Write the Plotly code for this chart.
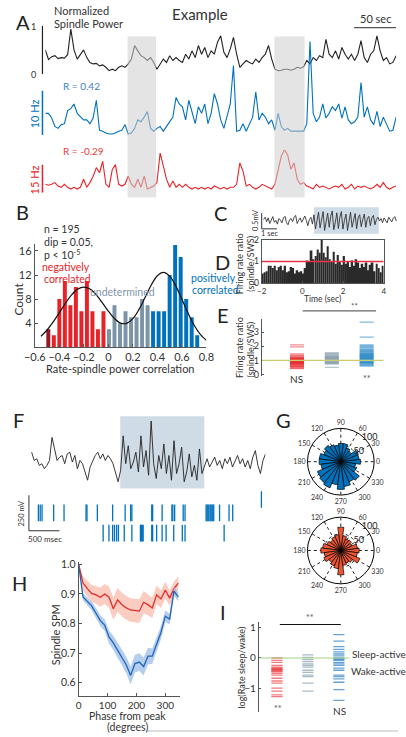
import plotly.graph_objects as go

W, H = 406, 737
def fx(p): return p / W
def fy(p): return 1 - p / H

FONT = "Lato"
TXT = "#333333"
BLUE = "rgb(0,114,189)"
RED = "rgb(232,35,40)"
DARKRED = "rgb(150,25,40)"
GRAYB = "rgb(125,148,168)"
SHADE = "rgb(207,219,229)"

# ---------------- data ----------------
# A: normalized spindle power and unit rates (sampled every A_dt seconds)
A_dt = 3.8
A_black = [0.50,0.30,0.36,0.38,0.32,0.34,0.33,0.40,0.93,0.50,
           0.31,0.41,0.50,0.34,0.24,0.21,0.22,0.17,0.19,0.14,
           0.07,0.10,0.07,0.14,0.17,0.14,0.21,0.31,0.59,0.48,
           0.38,0.34,0.28,0.34,0.24,0.10,0.21,0.31,0.24,0.38,
           0.28,0.34,0.28,0.24,0.41,0.31,0.48,0.34,0.59,0.41,
           0.55,0.34,0.48,0.41,0.66,0.79,0.45,0.34,0.52,0.76,
           0.41,0.14,0.21,0.28,0.24,0.21,0.31,0.24,0.34,0.41,
           0.59,0.31,0.10,0.07,0.08,0.10,0.10,0.08,0.10,0.14,
           0.12,0.15,0.28,0.21,0.34,0.28,0.38,0.34,0.72,0.41,
           0.34,0.48,0.31,0.55,0.41,0.31,0.41,0.28,0.41,0.69,
           0.34,0.24,0.41,0.48,0.79,0.48,0.28,0.34,0.21,0.24,
           0.38]
A_blue = [0.23,0.23,0.18,0.09,0.07,0.11,0.12,0.26,0.28,0.33,
          0.23,0.19,0.16,0.16,0.12,0.18,0.37,0.05,0.04,0.02,
          0.01,0.01,0.02,0.04,0.05,0.11,0.01,0.02,0.07,0.16,
          0.14,0.19,0.25,0.07,0.04,0.07,0.09,0.04,0.09,0.14,
          0.19,0.40,0.33,0.30,0.16,0.37,0.25,0.12,0.30,0.23,
          0.33,0.12,0.23,0.44,0.33,0.16,0.07,0.19,0.33,0.74,
          0.04,0.05,0.12,0.04,0.11,0.19,0.46,0.16,0.23,0.19,
          0.12,0.16,0.05,0.23,0.09,0.05,0.07,0.04,0.04,0.04,
          0.04,0.04,0.12,1.00,0.23,0.14,0.19,0.33,0.18,0.23,
          0.30,0.26,0.33,0.18,0.30,0.16,0.12,0.14,0.19,0.56,
          0.19,0.30,0.16,0.11,0.25,0.09,0.19,0.12,0.04,0.05,
          0.19]
A_red = [0.19,0.17,0.19,0.23,0.15,0.12,0.19,0.12,0.08,0.12,
         0.08,0.12,0.31,0.12,0.23,0.38,0.58,0.46,0.73,0.19,
         0.12,0.54,0.65,0.19,0.15,0.19,0.38,0.19,0.12,0.31,
         0.12,0.38,0.08,0.12,0.15,0.23,0.92,0.62,0.31,0.12,
         0.27,0.12,0.19,0.12,0.19,0.12,0.08,0.12,0.08,0.12,
         0.08,0.12,0.08,0.15,0.12,0.08,0.12,0.08,0.12,0.12,
         0.19,0.69,0.50,0.15,0.19,0.12,0.08,0.12,0.19,0.15,
         0.12,0.08,0.19,0.54,0.85,1.00,0.88,0.54,0.69,0.31,
         0.19,0.23,0.15,0.12,0.08,0.19,0.12,0.15,0.12,0.08,
         0.12,0.15,0.12,0.19,0.08,0.12,0.19,0.08,0.15,0.12,
         0.15,0.12,0.08,0.12,0.19,0.12,0.23,0.12,0.08,0.12,
         0.15]
A_shades = [(98, 132), (273, 309)]   # seconds

# B: histogram of rate-spindle power correlation
B_first_center = -0.49
B_bin_width = 0.045
B_counts = [3, 2, 8, 11, 7, 10, 6, 11, 6, 3, 6,
            3, 7, 4, 6, 5, 5, 8, 7,
            6, 6, 6, 12, 17, 15, 8, 5, 2]
B_group = (["strong"] * 1 + ["neg"] * 10 + ["und"] * 8 + ["pos"] * 9)
B_fit_x = [-0.55,-0.50,-0.45,-0.40,-0.35,-0.30,-0.25,-0.20,-0.15,-0.10,-0.05,0.00,0.05,0.10,
           0.15,0.20,0.25,0.30,0.35,0.40,0.45,0.50,0.55,0.60,0.65,0.70,0.75,0.80]
B_fit_y = [1.83,2.87,4.21,5.75,7.32,8.71,9.66,10.0,9.67,8.74,7.41,5.99,4.76,4.01,
           3.98,4.75,6.29,8.30,10.35,11.88,12.43,11.81,10.2,7.99,5.68,3.66,2.15,1.14]

# C: LFP example (mV), sampled every C_dt s
C_dt = 0.1
C_lfp = [0.05,0.12,-0.02,0.10,-0.08,0.06,0.14,-0.04,0.02,-0.10,0.08,0.03,-0.06,0.10,0.15,-0.05,
         -0.12,0.04,0.08,-0.02,0.12,0.18,-0.08,0.02,0.10,-0.04,0.06,0.16,0.02,-0.15,0.05,0.12,-0.10,
         0.20,-0.25,0.05,0.28,-0.22,0.10,0.30,-0.30,0.00,0.25,-0.20,0.15,0.32,-0.28,-0.05,0.26,-0.24,
         0.12,0.30,-0.26,0.02,0.22,-0.30,0.08,0.28,-0.20,0.00,0.24,-0.25,0.10,0.20,-0.18,0.05,0.22,
         -0.20,0.08,0.15,-0.15,0.10,0.18,-0.12,0.05,0.12,
         0.00,0.08,-0.05,0.10,0.02,-0.06,0.12,0.04,-0.03,0.09,0.14,0.00]
C_window = (3.3, 7.55)

# D: firing rate ratio vs time (0.1 s bins starting at -2 s)
D_start = -2.0
D_bin = 0.1
D_ratio = [0.45,0.50,0.55,0.80,0.80,0.70,0.80,0.60,0.75,0.80,
           0.60,0.80,0.50,0.55,0.75,0.70,0.45,0.60,0.50,0.55,
           0.45,0.70,1.05,1.00,1.50,1.10,1.25,1.55,1.40,2.00,
           1.40,1.20,1.70,1.10,1.00,1.45,0.90,1.30,1.00,0.85,
           1.25,0.90,1.00,0.75,1.05,0.80,1.10,0.95,0.70,0.90,
           0.75,0.95,0.60,0.85,0.95,0.55,0.90,0.70,0.50,0.80]

# E: firing rate ratio per group
E_neg = [2.1,1.95,1.45,1.35,1.3,1.25,1.2,1.18,1.15,1.12,1.1,1.08,1.05,1.02,1.0,0.98,0.96,0.94,
         0.92,0.9,0.88,0.86,0.84,0.82,0.8,0.78,0.75,0.72,0.7,0.66,0.62,0.58,0.55,0.5,0.45,0.42]
E_und = [1.55,1.48,1.42,1.36,1.3,1.26,1.22,1.18,1.14,1.1,1.06,1.02,0.98,0.94,0.9,0.86,0.82,0.78,0.74,0.5]
E_pos = [3.7,2.65,2.1,2.02,1.95,1.88,1.8,1.74,1.68,1.62,1.56,1.5,1.46,1.42,1.38,1.34,1.3,1.26,1.22,
         1.18,1.14,1.1,1.06,1.02,0.98,0.94,0.9,0.86,0.82,0.78,0.72,0.66,0.6]

# F: LFP (mV) sampled every F_dt ms, and spike times (ms)
F_dt = 41.6
F_lfp = [81,23,35,-12,0,-35,-12,23,185,92,
         23,46,58,0,69,81,12,58,-35,23,
         0,-58,-116,-23,23,58,81,35,69,23,
         58,35,0,-69,-127,-46,196,0,127,-35,
         12,81,-58,196,-23,92,-81,300,0,-104,
         58,-35,139,-69,58,-116,162,-69,0,116,
         -127,-58,69,-92,-12,-116,104,-69,-12,35,
         -23,12,46,-12,23,-35,35,0,46,-23,
         23,58,0,35,-23,23,-35,46,92,-12,
         -69,23,69]
F_window = (1450, 2825)
F_spk0 = [3760]
F_spk1 = [110,140,170,360,530,890,905,1075,1325,1530,1620,1640,1965,1980,2135,2295,2310,2340,2480,2510,
          2855,2870,2885,2900,2920,2935,2950,2965,2980,3075,3230,3290]
F_spk2 = [1170,1265,1325,1355,1390,1420,1515,1640,1780,1795,1810,1825,1965,1980,2045,2135,2200,2325,
          2465,2510,3150]
F_rows = [0, 1, 2.5]

# G: phase histograms (15 degree bins)
G_angles = list(range(0, 360, 15))
G_pos = [59,55,57,40,45,55,55,50,55,62,55,65,65,60,76,80,85,70,83,75,65,70,50,45]
G_neg = [55,50,35,40,38,45,70,48,45,40,45,55,60,50,55,45,50,55,73,45,40,45,62,50]

# H: spindle SPM vs phase
H_phase = list(range(0, 360, 15))
H_red = [1.0,0.937,0.918,0.902,0.897,0.889,0.90,0.889,0.85,0.88,0.864,0.853,0.846,0.845,0.842,
         0.872,0.864,0.853,0.897,0.883,0.913,0.886,0.918,0.937]
H_red_sem = [0.0,0.025,0.027,0.028,0.03,0.032,0.034,0.036,0.038,0.04,0.04,0.04,0.04,0.04,0.04,
             0.038,0.036,0.034,0.032,0.03,0.028,0.026,0.024,0.022]
H_blue = [1.0,0.89,0.875,0.86,0.835,0.81,0.795,0.755,0.735,0.71,0.685,0.66,0.625,0.665,0.67,
          0.655,0.69,0.69,0.73,0.77,0.825,0.815,0.91,0.89]
H_blue_sem = [0.0,0.012,0.013,0.015,0.017,0.018,0.02,0.022,0.024,0.026,0.027,0.028,0.03,0.03,0.03,
              0.03,0.028,0.026,0.024,0.022,0.02,0.018,0.015,0.015]

# I: log(rate sleep/wake) per group
I_neg = [0.0,-0.08,-0.14,-0.24,-0.3,-0.33,-0.35,-0.38,-0.4,-0.43,-0.45,-0.5,-0.56,-0.66,-0.75,-0.82,
         -0.98,-1.08,-1.2,-1.26]
I_und = [0.1,0.02,-0.05,-0.12,-0.19,-0.24,-0.3,-0.4,-0.47,-0.56,-0.61,-0.82,-1.08]
I_pos = [0.76,0.55,0.37,0.28,0.2,0.13,0.07,0.0,-0.04,-0.08,-0.14,-0.19,-0.24,-0.33,-0.4,-0.56,-0.61,
         -0.68,-0.79,-1.03,-1.38]

# ---------------- figure ----------------
fig = go.Figure()

# A
A_time = [i * A_dt for i in range(len(A_black))]
fig.add_trace(go.Scatter(x=A_time, y=A_black, mode="lines", line=dict(color="#222", width=1.1), xaxis="x", yaxis="y"))
fig.add_trace(go.Scatter(x=A_time, y=A_blue, mode="lines", line=dict(color=BLUE, width=1.1), xaxis="x", yaxis="y2"))
fig.add_trace(go.Scatter(x=A_time, y=A_red, mode="lines", line=dict(color=RED, width=1.1), xaxis="x", yaxis="y3"))

# B
B_centers = [B_first_center + B_bin_width * k for k in range(len(B_counts))]
cmap = {"strong": DARKRED, "neg": RED, "und": GRAYB, "pos": BLUE}
fig.add_trace(go.Bar(x=B_centers, y=B_counts, width=B_bin_width * 0.72,
                     marker=dict(color=[cmap[g] for g in B_group], line=dict(width=0)),
                     xaxis="x2", yaxis="y4"))
fig.add_trace(go.Scatter(x=B_fit_x, y=B_fit_y, mode="lines", line=dict(color="#111", width=1.2, shape="spline"),
                         xaxis="x2", yaxis="y4"))

# C
C_time = [i * C_dt for i in range(len(C_lfp))]
fig.add_trace(go.Scatter(x=C_time, y=C_lfp, mode="lines", line=dict(color="#333", width=0.9), xaxis="x3", yaxis="y5"))

# D
D_centers = [D_start + D_bin * (k + 0.5) for k in range(len(D_ratio))]
fig.add_trace(go.Bar(x=D_centers, y=D_ratio, width=D_bin * 0.85, marker=dict(color="#2a2a2a", line=dict(width=0)),
                     xaxis="x4", yaxis="y6"))

# E
def dash_trace(xpos, vals, color, xa, ya, size=8):
    return go.Scatter(x=[xpos] * len(vals), y=vals, mode="markers", xaxis=xa, yaxis=ya,
                      marker=dict(symbol="line-ew", size=size, line=dict(color=color, width=1.3)))
fig.add_trace(dash_trace(1, E_neg, "rgba(232,35,40,0.5)", "x5", "y7", size=10))
fig.add_trace(dash_trace(2, E_und, "rgba(110,140,160,0.5)", "x5", "y7", size=10))
fig.add_trace(dash_trace(3, E_pos, "rgba(0,114,189,0.5)", "x5", "y7", size=10))

# F
F_time = [i * F_dt for i in range(len(F_lfp))]
fig.add_trace(go.Scatter(x=F_time, y=F_lfp, mode="lines", line=dict(color="#222", width=0.9), xaxis="x6", yaxis="y8"))
for row, spk in zip(F_rows, [F_spk0, F_spk1, F_spk2]):
    fig.add_trace(go.Scatter(x=spk, y=[row] * len(spk), mode="markers", xaxis="x7", yaxis="y9",
                             marker=dict(symbol="line-ns", size=12, line=dict(color=BLUE, width=1.3))))

# G
fig.add_trace(go.Barpolar(r=G_pos, theta=G_angles, width=15, subplot="polar",
                          marker=dict(color=BLUE, line=dict(color="black", width=0.7))))
fig.add_trace(go.Barpolar(r=G_neg, theta=G_angles, width=15, subplot="polar2",
                          marker=dict(color="rgb(238,85,50)", line=dict(color="black", width=0.7))))

# H
def band(x, m, s, fillc, linec, xa, ya):
    up = [a + b for a, b in zip(m, s)]
    lo = [a - b for a, b in zip(m, s)]
    fig.add_trace(go.Scatter(x=x, y=up, mode="lines", line=dict(width=0), xaxis=xa, yaxis=ya))
    fig.add_trace(go.Scatter(x=x, y=lo, mode="lines", line=dict(width=0), fill="tonexty", fillcolor=fillc,
                             xaxis=xa, yaxis=ya))
    fig.add_trace(go.Scatter(x=x, y=m, mode="lines", line=dict(color=linec, width=1.3), xaxis=xa, yaxis=ya))
band(H_phase, H_red, H_red_sem, "rgba(248,170,150,0.6)", "rgb(225,45,45)", "x8", "y10")
band(H_phase, H_blue, H_blue_sem, "rgba(150,185,230,0.7)", "rgb(30,100,185)", "x8", "y10")

# I
fig.add_trace(dash_trace(1, I_neg, "rgba(232,35,40,0.6)", "x9", "y11", size=8))
fig.add_trace(dash_trace(2, I_und, "rgba(110,140,160,0.6)", "x9", "y11", size=8))
fig.add_trace(dash_trace(3, I_pos, "rgba(0,100,185,0.6)", "x9", "y11", size=8))

# ---------------- layout ----------------
hidden = dict(visible=False, showgrid=False, zeroline=False)
tf = lambda s=10: dict(size=s, family=FONT, color=TXT)
vis = dict(showline=True, linecolor="#555", linewidth=1, ticks="inside", ticklen=3, tickcolor="#555",
           showgrid=False, zeroline=False)

lay = dict(
    width=W, height=H, margin=dict(l=0, r=0, t=0, b=0), paper_bgcolor="white", plot_bgcolor="rgba(0,0,0,0)",
    showlegend=False, font=dict(family=FONT, color=TXT), barmode="overlay",
    # A
    xaxis=dict(hidden, domain=[fx(36), fx(404)], range=[0, 418], anchor="y"),
    yaxis=dict(hidden, domain=[fy(70), fy(21)], range=[0, 1], anchor="x"),
    yaxis2=dict(hidden, domain=[fy(131.7), fy(36.7)], range=[0, 1], anchor="x"),
    yaxis3=dict(hidden, domain=[fy(190), fy(146.7)], range=[0, 1], anchor="x"),
    # B
    xaxis2=dict(vis, domain=[fx(25), fx(205)], range=[-0.6, 0.8], anchor="y4",
                tickvals=[-0.6, -0.4, -0.2, 0, 0.2, 0.4, 0.6, 0.8],
                ticktext=["\u22120.6", "\u22120.4", "\u22120.2", "0", "0.2", "0.4", "0.6", "0.8"], tickfont=tf(11)),
    yaxis4=dict(vis, domain=[fy(347), fy(242)], range=[0, 17.2], anchor="x2",
                tickvals=[4, 8, 12, 16], tickfont=tf(11)),
    # C
    xaxis3=dict(hidden, domain=[fx(262), fx(405)], range=[-0.19, 8.75], anchor="y5"),
    yaxis5=dict(hidden, domain=[fy(232), fy(205)], range=[-0.41, 0.44], anchor="x3"),
    # D
    xaxis4=dict(vis, domain=[fx(263), fx(391)], range=[-2, 4], anchor="y6", mirror=True,
                tickvals=[-2, 0, 2, 4], ticktext=["\u22122", "0", "2", "4"], tickfont=tf(8), ticklen=2),
    yaxis6=dict(vis, domain=[fy(282), fy(238)], range=[0, 2], anchor="x4", mirror=True,
                tickvals=[0, 1, 2], tickfont=tf(8.5), ticklen=2),
    # E
    xaxis5=dict(hidden, domain=[fx(263), fx(391)], range=[-0.014, 3.49], anchor="y7"),
    yaxis7=dict(vis, domain=[fy(376), fy(318)], range=[-0.1, 3.95], anchor="x5",
                tickvals=[0, 1, 2, 3], tickfont=tf(9), ticklen=2),
    # F
    xaxis6=dict(hidden, domain=[fx(17), fx(267)], range=[-73, 3827], anchor="y8"),
    yaxis8=dict(hidden, domain=[fy(492), fy(415)], range=[-187, 347], anchor="x6"),
    xaxis7=dict(hidden, domain=[fx(17), fx(267)], range=[-73, 3827], anchor="y9"),
    yaxis9=dict(hidden, domain=[fy(545), fy(493)], range=[3.2, -0.6], anchor="x7"),
    # H
    xaxis8=dict(vis, domain=[fx(71), fx(177)], range=[0, 350], anchor="y10",
                tickvals=[0, 100, 200, 300], tickfont=tf(10)),
    yaxis10=dict(vis, domain=[fy(700), fy(565)], range=[0.557, 1.007], anchor="x8",
                 tickvals=[0.6, 0.7, 0.8, 0.9, 1.0], ticktext=["0.6", "0.7", "0.8", "0.9", "1.0"], tickfont=tf(10.5)),
    # I
    xaxis9=dict(hidden, domain=[fx(260), fx(355)], range=[0.415, 3.34], anchor="y11"),
    yaxis11=dict(vis, domain=[fy(717), fy(625)], range=[-1.77, 1.19], anchor="x9",
                 tickvals=[-1, 0, 1], ticktext=["\u22121", "0", "1"], tickfont=tf(10), ticklen=2),
)

polar_axes = dict(
    bgcolor="white",
    angularaxis=dict(tickvals=list(range(0, 360, 30)), ticktext=[str(a) for a in range(0, 360, 30)],
                     direction="counterclockwise", rotation=0, showline=True, linecolor="black", linewidth=1,
                     showgrid=True, gridcolor="#222", gridwidth=0.8, griddash="dot", ticks="",
                     tickfont=dict(size=7, family=FONT, color=TXT)),
    radialaxis=dict(range=[0, 100], tickvals=[50, 100], ticktext=["50", "100"], angle=60, tickangle=60,
                    showline=False, showgrid=True, gridcolor="#222", gridwidth=0.8, griddash="dot", ticks="",
                    tickfont=dict(size=9, family=FONT, color="#222")),
)
lay["polar"] = dict(polar_axes, domain=dict(x=[fx(311), fx(381)], y=[fy(498), fy(428)]))
lay["polar2"] = dict(polar_axes, domain=dict(x=[fx(311), fx(381)], y=[fy(588), fy(518)]))

fig.update_layout(**lay)

# ---------------- shapes ----------------
shapes = []
def pline(x0, y0, x1, y1, color="#444", width=1):
    shapes.append(dict(type="line", xref="paper", yref="paper", x0=fx(x0), y0=fy(y0), x1=fx(x1), y1=fy(y1),
                       line=dict(color=color, width=width)))

for s0, s1 in A_shades:
    shapes.append(dict(type="rect", xref="x", yref="paper", x0=s0, x1=s1, y0=fy(195), y1=fy(32),
                       fillcolor="rgba(205,205,205,0.55)", line=dict(width=0), layer="above"))
shapes.append(dict(type="line", xref="paper", yref="y", x0=fx(33), x1=fx(33), y0=0, y1=1,
                   line=dict(color="#222", width=1.2)))
shapes.append(dict(type="line", xref="paper", yref="y2", x0=fx(33), x1=fx(33), y0=-0.02, y1=0.47,
                   line=dict(color=BLUE, width=1.5)))
shapes.append(dict(type="line", xref="paper", yref="y3", x0=fx(33), x1=fx(33), y0=-0.07, y1=0.65,
                   line=dict(color=RED, width=1.5)))
shapes.append(dict(type="line", xref="x", yref="paper", x0=368, x1=418, y0=fy(23), y1=fy(23),
                   line=dict(color="#555", width=1.3)))
shapes.append(dict(type="rect", xref="x3", yref="y5 domain", x0=C_window[0], x1=C_window[1], y0=0, y1=1,
                   fillcolor=SHADE, line=dict(width=0), layer="below"))
shapes.append(dict(type="line", xref="x3", yref="y5", x0=-0.128, x1=-0.128, y0=-0.25, y1=0.25,
                   line=dict(color="#333", width=1)))
shapes.append(dict(type="line", xref="x3", yref="y5", x0=-0.128, x1=0.872, y0=-0.25, y1=-0.25,
                   line=dict(color="#333", width=1)))
shapes.append(dict(type="line", xref="x4", yref="y6", x0=-2, x1=4, y0=1, y1=1,
                   line=dict(color="rgb(232,50,70)", width=1.5)))
shapes.append(dict(type="line", xref="x5", yref="y7", x0=0, x1=3.49, y0=1, y1=1,
                   line=dict(color="rgb(200,205,110)", width=1.2)))
pline(306, 310, 383, 310, color="#666", width=1.2)
shapes.append(dict(type="rect", xref="x6", yref="y8", x0=F_window[0], x1=F_window[1], y0=-174, y1=333,
                   fillcolor=SHADE, line=dict(width=0), layer="below"))
shapes.append(dict(type="line", xref="x7", yref="paper", x0=-45, x1=-45, y0=fy(497), y1=fy(533),
                   line=dict(color="#333", width=1)))
shapes.append(dict(type="line", xref="x7", yref="paper", x0=-45, x1=455, y0=fy(533), y1=fy(533),
                   line=dict(color="#333", width=1)))
shapes.append(dict(type="line", xref="x9", yref="y11", x0=0.44, x1=3.6, y0=0, y1=0,
                   line=dict(color="rgb(165,210,135)", width=1.2)))
pline(282, 628, 346, 628, color="#111", width=1.2)
pline(143, 736, 406, 736, color="#bbb", width=1)
fig.update_layout(shapes=shapes)

# ---------------- text ----------------
ann = []
def txt(x, y, s, size=10, color=TXT, xa="center", ya="middle", angle=0):
    ann.append(dict(x=fx(x), y=fy(y), xref="paper", yref="paper", text=s, showarrow=False,
                    font=dict(size=size, color=color, family=FONT), xanchor=xa, yanchor=ya, textangle=angle))

LET = 20
txt(3, 17, "A", LET, "#222", xa="left")
txt(43, 6, "Normalized", 11, xa="left")
txt(43, 19, "Spindle Power", 11, xa="left")
txt(198, 9, "Example", 15)
txt(382, 14, "50 sec", 11)
txt(28, 22, "1", 9, xa="right")
txt(28, 70, "0", 9, xa="right")
txt(74, 82, "R = 0.42", 10, "rgb(60,130,200)")
txt(76, 148, "R = -0.29", 10, "rgb(232,60,60)")
txt(25, 110, "10 Hz", 11, BLUE, angle=-90)
txt(25, 177, "15 Hz", 11, RED, angle=-90)

txt(3, 210, "B", LET, "#222", xa="left")
txt(33, 227, "n = 195", 10.5, xa="left")
txt(33, 240, "dip = 0.05,", 10.5, xa="left")
txt(33, 253, "p < 10<sup>-5</sup>", 10.5, xa="left")
txt(58, 266, "negatively", 10.5, RED)
txt(59, 278, "correlated", 10.5, RED)
txt(117, 291, "undetermined", 10.5, "rgb(130,150,172)")
txt(187, 277, "positively", 10.5, BLUE, xa="left")
txt(188, 289, "correlated", 10.5, BLUE, xa="left")
txt(8, 298, "Count", 12, angle=-90)
txt(115, 368, "Rate-spindle power correlation", 11)

txt(220, 211, "C", LET, "#222")
txt(256, 218, "0.5mV", 7.5, angle=-90)
txt(271, 232, "1 sec", 7.5)

txt(222, 261, "D", LET, "#222")
txt(240, 262, "Firing rate ratio", 9, angle=-90)
txt(251, 262, "(spindle/SWS)", 9, angle=-90)
txt(327, 298, "Time (sec)", 8.5)

txt(222, 314, "E", LET, "#222")
txt(240, 347, "Firing rate ratio", 9, angle=-90)
txt(251, 349, "(spindle/SWS)", 9, angle=-90)
txt(360, 305, "**", 8, "#555")
txt(300, 379, "NS", 10)
txt(373, 379, "**", 9, "#555")

txt(8, 421, "F", LET, "#222")
txt(10, 515, "250 mV", 7.5, angle=-90)
txt(36, 541, "500 msec", 8)

txt(286, 421, "G", LET, "#222")

txt(9, 586, "H", LET, "#222")
txt(47, 638, "Spindle SPM", 11, angle=-90)
txt(122, 721, "Phase from peak", 10.5)
txt(122, 732, "(degrees)", 10.5)

txt(222, 615, "I", LET, "#222")
txt(242, 672, "log(Rate sleep/wake)", 9, angle=-90)
txt(314, 621, "**", 9, "#555")
txt(280, 713, "**", 9, "#555")
txt(345, 716, "NS", 10)
txt(356, 658, "Sleep-active", 10, xa="left")
txt(355, 675, "Wake-active", 10, xa="left")

fig.update_layout(annotations=ann)
fig.write_html("out.html", config={"displayModeBar": False},
               post_script="document.body.style.margin='0';document.body.style.overflow='hidden';")
